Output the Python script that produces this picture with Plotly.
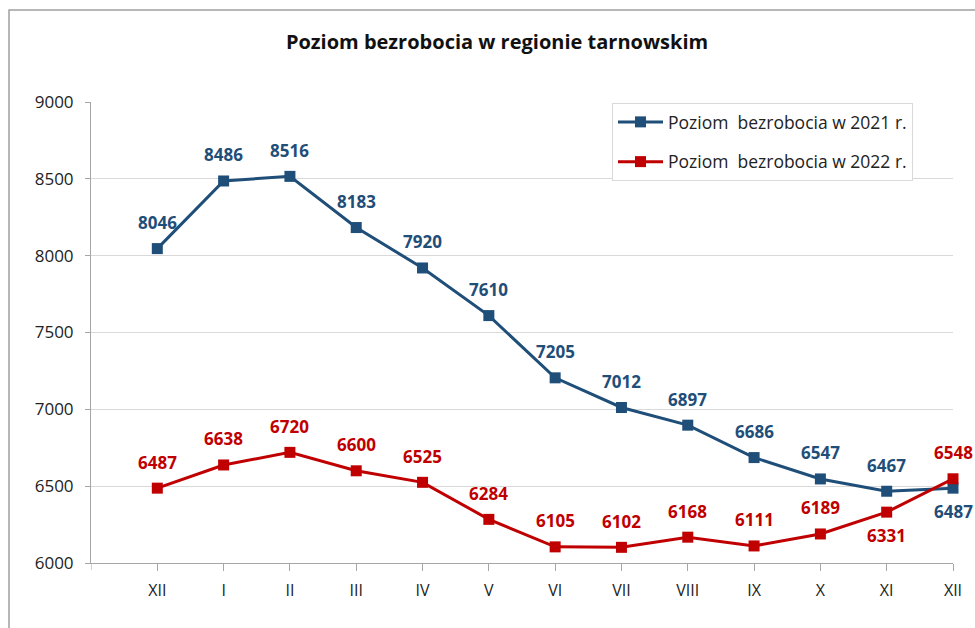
import plotly.graph_objects as go

months = ["XII", "I", "II", "III", "IV", "V", "VI", "VII", "VIII", "IX", "X", "XI", "XII"]
values_2021 = [8046, 8486, 8516, 8183, 7920, 7610, 7205, 7012, 6897, 6686, 6547, 6467, 6487]
values_2022 = [6487, 6638, 6720, 6600, 6525, 6284, 6105, 6102, 6168, 6111, 6189, 6331, 6548]
# label side for each point: +1 above, -1 below
side_2021 = [1] * 12 + [-1]
side_2022 = [1] * 11 + [-1, 1]

x = list(range(len(months)))
blue = "#1F4E79"
red = "#C00000"
FONT = "Open Sans, Liberation Sans, sans-serif"

fig = go.Figure()
fig.add_trace(go.Scatter(
    x=x, y=values_2021, mode="lines+markers", name="Poziom  bezrobocia w 2021 r.",
    legendgroup="a",
    line=dict(color=blue, width=3), marker=dict(symbol="square", size=11, color=blue),
    cliponaxis=False,
))
fig.add_trace(go.Scatter(
    x=x, y=values_2022, mode="lines+markers", name="Poziom  bezrobocia w 2022 r.",
    legendgroup="b",
    line=dict(color=red, width=3), marker=dict(symbol="square", size=11, color=red),
    cliponaxis=False,
))

for vals, sides, col in [(values_2021, side_2021, blue), (values_2022, side_2022, red)]:
    for xi, v, s in zip(x, vals, sides):
        fig.add_annotation(x=xi, y=v, xref="x", yref="y", text=f"<b>{v}</b>", showarrow=False,
                           yshift=26 if s > 0 else -23,
                           font=dict(family=FONT, size=17, color=col))

L, R, T, B = 91, 22, 102, 65
W, H = 975, 628
pw, ph = W - L - R, H - T - B

def px(xp):
    return (xp - L) / pw

def py(yp):
    return (H - B - yp) / ph

fig.update_layout(
    width=W, height=H,
    margin=dict(l=L, r=R, t=T, b=B, autoexpand=False),
    paper_bgcolor="white", plot_bgcolor="white",
    font=dict(family=FONT, size=17, color="#222222"),
    title=dict(text="<b>Poziom bezrobocia w regionie tarnowskim</b>", x=(497 / W), xanchor="center",
               y=1 - 42 / H, yanchor="middle",
               font=dict(size=20, color="#111111")),
    xaxis=dict(range=[-1, 12], tickmode="array", tickvals=x, ticktext=months,
               showgrid=False, showline=True, linecolor="#A6A6A6", linewidth=1,
               ticks="outside", ticklen=7, tickcolor="#A6A6A6", zeroline=False,
               ticklabelstandoff=6,
               tickfont=dict(size=16, color="#222222")),
    yaxis=dict(range=[6000, 9000], dtick=500, showgrid=True, gridcolor="#D9D9D9", gridwidth=1,
               showline=True, linecolor="#A6A6A6", linewidth=1, ticks="outside", ticklen=5,
               tickcolor="#A6A6A6", zeroline=False, ticklabelstandoff=8,
               tickfont=dict(size=17, color="#222222")),
    legend=dict(x=px(612), y=py(103), xanchor="left", yanchor="top",
                bgcolor="white", bordercolor="#D9D9D9", borderwidth=1,
                font=dict(size=17.5, color="#222222"), tracegroupgap=14,
                itemwidth=45),
    showlegend=True,
)
# extra x-axis tick at the left edge
fig.add_shape(type="line", xref="x", yref="paper", x0=-1, x1=-1, y0=0, y1=py(570),
              line=dict(color="#A6A6A6", width=1))
# outer frame
fig.add_shape(type="rect", xref="paper", yref="paper",
              x0=px(9), x1=px(990), y0=py(640), y1=py(10),
              line=dict(color="#A0A0A0", width=1.5), layer="below")

fig.write_html("out.html", config={"displayModeBar": False},
               post_script="document.body.style.margin='0';document.body.style.padding='0';")
